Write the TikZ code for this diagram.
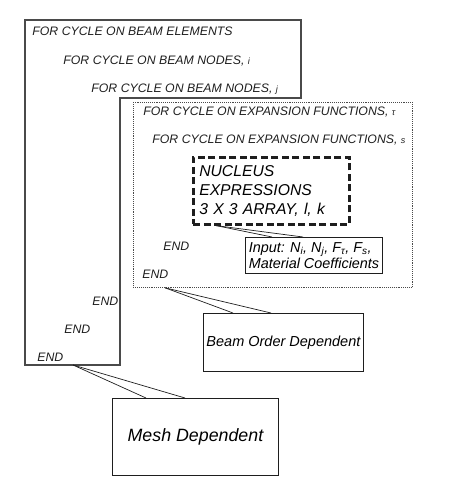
\documentclass[tikz,border=0pt]{standalone}
\usepackage{fontspec}
\setmainfont{Liberation Sans}
\usetikzlibrary{positioning,calc}
\definecolor{ink}{HTML}{1E1E1E}
\definecolor{ink2}{HTML}{4A4A4A}
\newcommand{\loopidx}[1]{{\fontsize{9}{9}\selectfont #1}}
\tikzset{
  every picture/.style={line width=0.8pt,font=\itshape\fontsize{12.3}{14}\selectfont},
  lbl/.style={anchor=base west,inner sep=0,text=ink},
  bx/.style={draw=ink,anchor=north west,inner sep=0pt,line width=0.9pt},
  loopline/.style={draw=ink2,line width=1.4pt},
  dotbox/.style={bx,draw=ink2,line width=0.8pt,dash pattern=on 0.8pt off 1.1pt},
  nucbox/.style={bx,line width=2.6pt,dash pattern=on 7pt off 3.5pt,align=left,
    text width=144pt,font=\itshape\fontsize{15.7}{19}\selectfont},
  callout/.style={draw=ink,line width=0.7pt},
}
\begin{document}
\begin{tikzpicture}[x=1pt,y=1pt]
  \useasboundingbox (0,0) rectangle (448,486);
  % mesh loops
  \draw[loopline] (25,466) -- (301,466) -- (301,388) -- (120,388) -- (120,121) -- (25,121) -- cycle;
  \coordinate (meshtip) at (73,121);
  \node[lbl] (elem) at (32,450) {FOR CYCLE ON BEAM ELEMENTS};
  \node[lbl] (nodei) at (63,421) {FOR CYCLE ON BEAM NODES, \loopidx{i}};
  \node[lbl] (nodej) at (91,393.5) {FOR CYCLE ON BEAM NODES, \loopidx{j}};
  % expansion loops
  \node[dotbox,minimum width=279pt,minimum height=185pt] (expbox) at (133,384) {};
  \node[lbl] (tau) at (143,370.5) {FOR CYCLE ON EXPANSION FUNCTIONS, \loopidx{τ}};
  \node[lbl] (s) at (152,342.7) {FOR CYCLE ON EXPANSION FUNCTIONS, \loopidx{s}};
  \node[nucbox,minimum width=156pt,minimum height=67pt] (nucleus) at (192,330)
    {NUCLEUS\\EXPRESSIONS\\3 X 3 ARRAY, l, k};
  \node[bx,align=left,inner xsep=3.3pt,minimum width=137pt,minimum height=36pt,
    font=\itshape\fontsize{14.4}{16.6}\selectfont] (input) at (245,249)
    {Input: N\textsubscript{i}, N\textsubscript{j}, F\textsubscript{τ}, F\textsubscript{s},\\Material Coefficients};
  \foreach \n/\x/\y in {s/163/235.3,tau/142/207.7,j/92/180,i/64/152.7,el/37/124.3}
    \node[lbl] (end\n) at (\x,\y) {END};
  % dependence callouts
  \node[bx,minimum width=160pt,minimum height=58pt,font=\itshape\fontsize{14.5}{16}\selectfont] (beam) at (203,173) {Beam Order Dependent};
  \node[bx,minimum width=166pt,minimum height=77pt,font=\itshape\fontsize{17.8}{20}\selectfont] (mesh) at (112,88) {Mesh Dependent};
  \draw[callout] ([xshift=24pt]nucleus.south west) -- ([xshift=27pt]input.north west);
  \draw[callout] ([xshift=24pt]nucleus.south west) -- ([xshift=58pt]input.north west);
  \draw[callout] ([xshift=32pt]expbox.south west) -- ([xshift=30pt]beam.north west);
  \draw[callout] ([xshift=32pt]expbox.south west) -- ([xshift=68pt]beam.north west);
  \draw[callout] (meshtip) -- ([xshift=34pt]mesh.north west);
  \draw[callout] (meshtip) -- ([xshift=73pt]mesh.north west);
\end{tikzpicture}
\end{document}
